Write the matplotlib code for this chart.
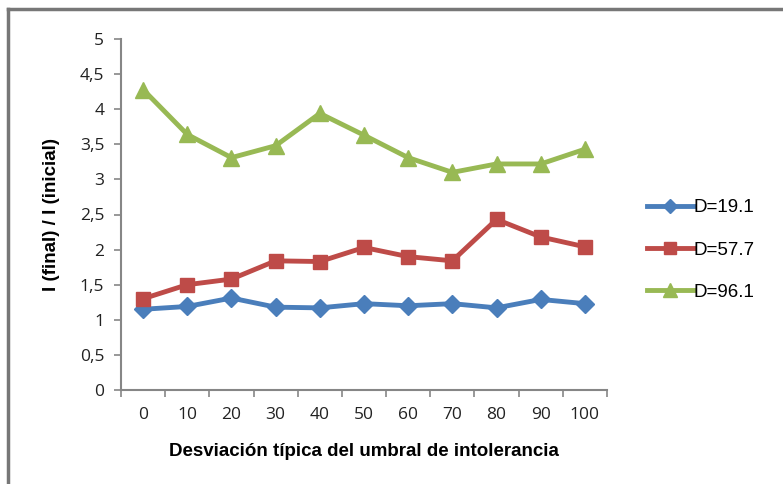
import matplotlib
matplotlib.use("Agg")
import matplotlib.pyplot as plt
from matplotlib.lines import Line2D
from matplotlib.ticker import FuncFormatter, FixedLocator

# ── Data ──────────────────────────────────────────────
x_labels = ["0", "10", "20", "30", "40", "50", "60", "70", "80", "90", "100"]
d191 = [1.15, 1.19, 1.31, 1.18, 1.17, 1.23, 1.20, 1.23, 1.17, 1.29, 1.23]
d577 = [1.30, 1.50, 1.58, 1.84, 1.83, 2.03, 1.90, 1.84, 2.43, 2.18, 2.04]
d961 = [4.28, 3.64, 3.31, 3.48, 3.94, 3.63, 3.31, 3.10, 3.22, 3.22, 3.43]
series_names = ["D=19.1", "D=57.7", "D=96.1"]

BLUE, RED, GREEN = "#4A7EBB", "#BE4B48", "#98B954"
AXIS_GRAY = "#868686"

fig = plt.figure(figsize=(7.83, 4.84), dpi=100)
ax = fig.add_axes([121/783, 1-390/484, (607-121)/783, (390-39)/484])

xs = list(range(len(x_labels)))
ax.plot(xs, d191, color=BLUE, lw=3.5, marker="D", ms=9, label=series_names[0])
ax.plot(xs, d577, color=RED, lw=3.5, marker="s", ms=10, label=series_names[1])
ax.plot(xs, d961, color=GREEN, lw=3.5, marker="^", ms=12, label=series_names[2])

ax.set_xlim(-0.5, len(x_labels) - 0.5)
ax.set_ylim(0, 5)
ax.set_yticks([i * 0.5 for i in range(11)])
ax.yaxis.set_major_formatter(FuncFormatter(lambda v, p: f"{v:g}".replace(".", ",")))

ax.set_xticks(xs)
ax.set_xticklabels(x_labels)
ax.xaxis.set_minor_locator(FixedLocator([i - 0.5 for i in range(len(x_labels) + 1)]))
ax.tick_params(axis="x", which="major", length=0, pad=12)
ax.tick_params(axis="x", which="minor", length=5, color=AXIS_GRAY, width=1.2)
ax.tick_params(axis="y", length=5, color=AXIS_GRAY, width=1.2, pad=7)
for lab in ax.get_xticklabels() + ax.get_yticklabels():
    lab.set_family("Open Sans")
    lab.set_fontsize(12.5)
    lab.set_color("#222222")

for s in ["top", "right"]:
    ax.spines[s].set_visible(False)
for s in ["left", "bottom"]:
    ax.spines[s].set_color(AXIS_GRAY)
    ax.spines[s].set_linewidth(1.5)

ax.set_xlabel("Desviación típica del umbral de intolerancia", family="Liberation Sans",
              fontsize=13.5, fontweight="bold", labelpad=15)
ax.set_ylabel("I (final) / I (inicial)", family="Liberation Sans",
              fontsize=13.5, fontweight="bold", labelpad=14)

leg = fig.legend(loc="center left", bbox_to_anchor=(630/783, 1-250/484), frameon=False,
                 prop={"family": "Liberation Sans", "size": 13.5}, handlelength=2.5,
                 handletextpad=0.0, labelspacing=1.35, markerscale=0.8)

# chart area frame (top and left edges only visible)
fig.add_artist(Line2D([8/783, 1], [1-9/484, 1-9/484], color="#777777", lw=2.5,
                      transform=fig.transFigure))
fig.add_artist(Line2D([8/783, 8/783], [0, 1-9/484], color="#777777", lw=2.5,
                      transform=fig.transFigure))

fig.savefig("out.png", dpi=100, facecolor="white")
